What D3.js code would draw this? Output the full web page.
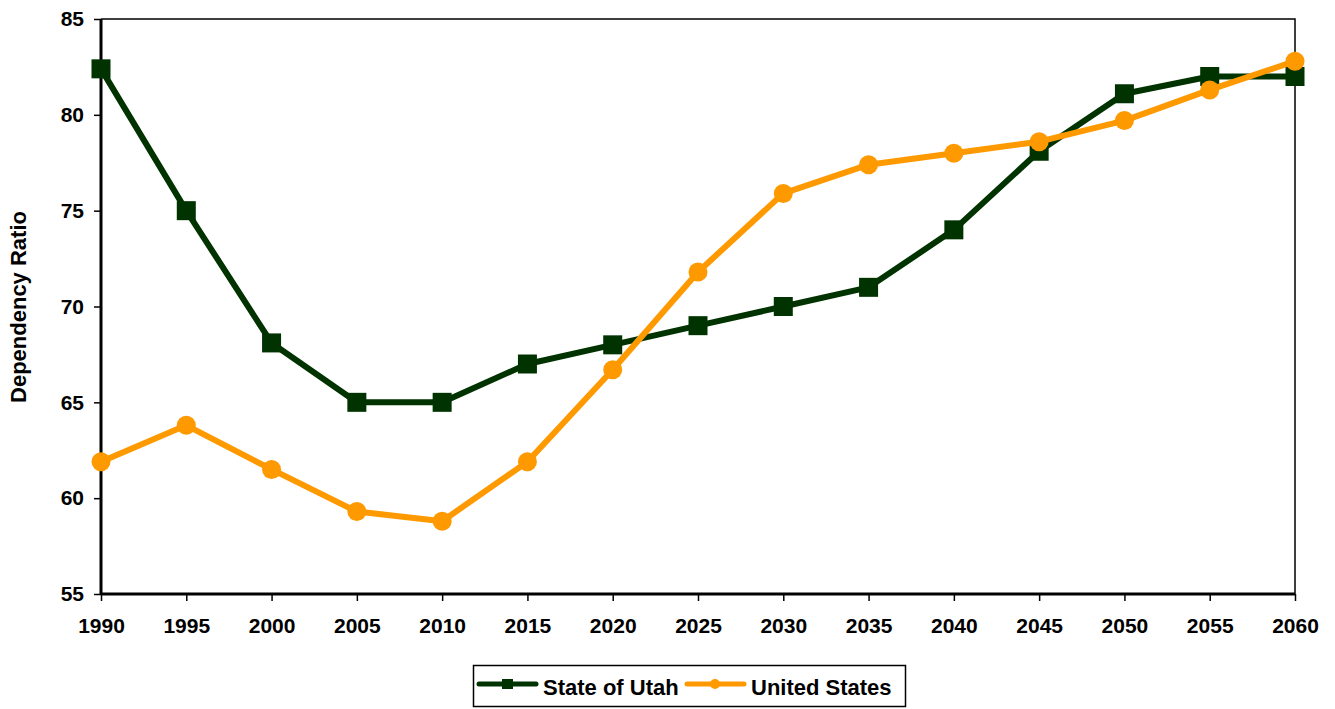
<!DOCTYPE html>
<html>
<head>
<meta charset="utf-8">
<script src="https://cdn.jsdelivr.net/npm/d3@7"></script>
<style>
  html, body { margin: 0; padding: 0; background: #fff; }
  svg { display: block; font-family: "Liberation Sans", Arial, sans-serif; }
</style>
</head>
<body>
<svg id="chart" width="1335" height="709"></svg>
<script>
// Dependency ratio, 1990–2060
const years = [1990, 1995, 2000, 2005, 2010, 2015, 2020, 2025, 2030, 2035, 2040, 2045, 2050, 2055, 2060];
const utah = [82.4, 75.0, 68.1, 65.0, 65.0, 67.0, 68.0, 69.0, 70.0, 71.0, 74.0, 78.1, 81.1, 82.0, 82.0];
const unitedStates = [61.9, 63.8, 61.5, 59.3, 58.8, 61.9, 66.7, 71.8, 75.9, 77.4, 78.0, 78.6, 79.7, 81.3, 82.8];
const yTicks = [55, 60, 65, 70, 75, 80, 85];
const seriesNames = ["State of Utah", "United States"];

const colors = { utah: "#003300", us: "#FF9900" };

const svg = d3.select("#chart");
const plot = { left: 101, right: 1295, top: 19, bottom: 594 };

const x = d3.scalePoint().domain(years).range([plot.left, plot.right]);
const y = d3.scaleLinear().domain([55, 85]).range([plot.bottom, plot.top]);

// plot-area frame (top and right edges)
svg.append("path")
  .attr("d", `M${plot.left},${plot.top}H${plot.right}V${plot.bottom}`)
  .attr("fill", "none").attr("stroke", "#000").attr("stroke-width", 1.5);

// y axis
const yAxis = svg.append("g")
  .attr("transform", `translate(${plot.left},0)`)
  .call(d3.axisLeft(y).tickValues(yTicks).tickSize(7).tickPadding(10));
// x axis
const xAxis = svg.append("g")
  .attr("transform", `translate(0,${plot.bottom})`)
  .call(d3.axisBottom(x).tickSize(7).tickPadding(17).tickFormat(d3.format("d")));

[yAxis, xAxis].forEach(g => {
  g.select(".domain").attr("stroke", "#000").attr("stroke-width", 3);
  g.selectAll(".tick line").attr("stroke", "#000").attr("stroke-width", 1.5);
  g.selectAll(".tick text")
    .attr("fill", "#000")
    .style("font-size", "21px")
    .style("font-weight", "bold");
});
xAxis.select(".domain").attr("d", `M${plot.left},0H${plot.right}`);
yAxis.select(".domain").attr("d", `M0,${plot.bottom}V${plot.top}`);

// y-axis title
svg.append("text")
  .attr("transform", "translate(26,307) rotate(-90)")
  .attr("text-anchor", "middle")
  .style("font-size", "22px")
  .style("font-weight", "bold")
  .text("Dependency Ratio");

const line = d3.line().x((d, i) => x(years[i])).y(d => y(d));

// Utah series
svg.append("path").datum(utah)
  .attr("d", line).attr("fill", "none")
  .attr("stroke", colors.utah).attr("stroke-width", 6).attr("stroke-linejoin", "round");
const sq = 19;
svg.append("g").selectAll("rect").data(utah).join("rect")
  .attr("x", (d, i) => x(years[i]) - sq / 2)
  .attr("y", d => y(d) - sq / 2)
  .attr("width", sq).attr("height", sq)
  .attr("fill", colors.utah);

// United States series
svg.append("path").datum(unitedStates)
  .attr("d", line).attr("fill", "none")
  .attr("stroke", colors.us).attr("stroke-width", 6).attr("stroke-linejoin", "round");
svg.append("g").selectAll("circle").data(unitedStates).join("circle")
  .attr("cx", (d, i) => x(years[i]))
  .attr("cy", d => y(d))
  .attr("r", 9.5)
  .attr("fill", colors.us);

// legend
const legend = svg.append("g");
legend.append("rect")
  .attr("x", 473.5).attr("y", 665.5).attr("width", 432).attr("height", 41)
  .attr("fill", "#fff").attr("stroke", "#000").attr("stroke-width", 1.5);

const legendItems = [
  { name: seriesNames[0], color: colors.utah, shape: "square", x0: 479 },
  { name: seriesNames[1], color: colors.us, shape: "circle", x0: 687 }
];
legendItems.forEach(it => {
  const cy = 684;
  legend.append("line")
    .attr("x1", it.x0).attr("x2", it.x0 + 57).attr("y1", cy).attr("y2", cy)
    .attr("stroke", it.color).attr("stroke-width", 5).attr("stroke-linecap", "round");
  if (it.shape === "square") {
    legend.append("rect").attr("x", it.x0 + 23).attr("y", cy - 5).attr("width", 11).attr("height", 10)
      .attr("fill", it.color);
  } else {
    legend.append("circle").attr("cx", it.x0 + 28).attr("cy", cy).attr("r", 5).attr("fill", it.color);
  }
  legend.append("text")
    .attr("x", it.x0 + 64).attr("y", 695)
    .style("font-size", "22px").style("font-weight", "bold")
    .text(it.name);
});
</script>
</body>
</html>
